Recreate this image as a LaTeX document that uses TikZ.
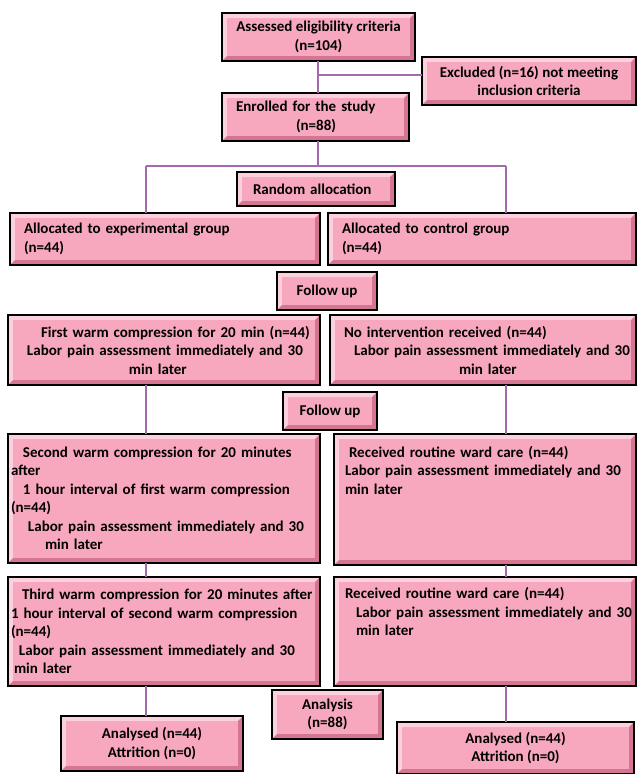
\documentclass[tikz,border=0pt]{standalone}
\usepackage{fontspec}
\setmainfont{Carlito}
\usetikzlibrary{positioning,calc}
\definecolor{BoxFace}{RGB}{247,168,190}
\definecolor{BevelLight}{RGB}{252,208,220}
\definecolor{BevelDark}{RGB}{212,118,146}
\definecolor{LinkPurple}{RGB}{165,105,175}

\begin{document}
\begin{tikzpicture}[x=1pt, y=-1pt,
 box/.style={draw=black, line width=1.6pt, fill=BoxFace, anchor=north west, outer sep=0pt,
   inner xsep=3pt, inner ysep=2pt, font=\fontsize{15}{18.5}\selectfont\bfseries,
   path picture={
     \fill[BevelLight] (path picture bounding box.north west) rectangle (path picture bounding box.south east);
     \fill[BevelDark] (path picture bounding box.north east) -- (path picture bounding box.south east)
       -- (path picture bounding box.south west) -- ([shift={(5pt,5pt)}]path picture bounding box.south west)
       -- ([shift={(-5pt,5pt)}]path picture bounding box.south east)
       -- ([shift={(-5pt,-5pt)}]path picture bounding box.north east) -- cycle;
     \fill[BoxFace] ([shift={(5pt,-5pt)}]path picture bounding box.north west)
       rectangle ([shift={(-5pt,5pt)}]path picture bounding box.south east);
   }},
 link/.style={draw=LinkPurple, line width=1.8pt}
]
\useasboundingbox (0,0) rectangle (638,774);

% enrolment
\node[box, minimum width=193pt, minimum height=48pt, align=center] (assess) at (222,13) {Assessed eligibility criteria\\(n=104)};
\node[box, minimum width=214pt, minimum height=48pt, align=center] (excl) at (422,57) {Excluded (n=16) not meeting\\inclusion criteria};
\node[box, minimum width=187pt, minimum height=48pt, text width=181pt, align=left] (enrol) at (222,93) {\hspace*{11pt}Enrolled for the study\\\hspace*{71pt}(n=88)};
\node[box, minimum width=158pt, minimum height=34pt, text width=152pt, align=left] (rand) at (237,172) {\hspace*{13pt}Random allocation};

% allocation
\node[box, minimum width=310pt, minimum height=52pt, text width=304pt, align=left] (allocE) at (10,213) {\hspace*{11pt}Allocated to experimental group\\\hspace*{11pt}(n=44)};
\node[box, minimum width=308pt, minimum height=52pt, text width=302pt, align=left] (allocC) at (328,213) {\hspace*{11pt}Allocated to control group\\\hspace*{11pt}(n=44)};
\node[box, minimum width=100pt, minimum height=38pt, align=center] (fuA) at (277,272) {Follow up};

% follow up
\node[box, minimum width=312pt, minimum height=70pt, text width=306pt, align=left] (firstE) at (8,315) {\hspace*{30pt}First warm compression for 20 min (n=44)\\\hspace*{16pt}Labor pain assessment immediately and 30\\\hspace*{118pt}min later};
\node[box, minimum width=306pt, minimum height=70pt, text width=300pt, align=left] (firstC) at (330,315) {\hspace*{11pt}No intervention received (n=44)\\\hspace*{21pt}Labor pain assessment immediately and 30\\\hspace*{126pt}min later};
\node[box, minimum width=94pt, minimum height=38pt, align=center] (fuB) at (283,392) {Follow up};

\node[box, minimum width=312pt, minimum height=129pt, text width=306pt, align=left] (secE) at (8,434) {\hspace*{12pt}Second warm compression for 20 minutes\\after\\\hspace*{12pt}1 hour interval of first warm compression\\(n=44)\\\hspace*{17pt}Labor pain assessment immediately and 30\\\hspace*{34pt}min later};
\node[box, minimum width=302pt, minimum height=131pt, text width=296pt, text depth=96pt, align=left] (secC) at (334,434) {\hspace*{12pt}Received routine ward care (n=44)\\\hspace*{8pt}Labor pain assessment immediately and 30\\\hspace*{8pt}min later};

\node[box, minimum width=312pt, minimum height=109pt, text width=306pt, align=left] (thirdE) at (8,577) {\hspace*{11pt}Third warm compression for 20 minutes after\\1 hour interval of second warm compression\\(n=44)\\\hspace*{8pt}Labor pain assessment immediately and 30\\\hspace*{3pt}min later};
\node[box, minimum width=302pt, minimum height=109pt, text width=296pt, text depth=77pt, align=left] (thirdC) at (334,577) {\hspace*{8pt}Received routine ward care (n=44)\\\hspace*{19pt}Labor pain assessment immediately and 30\\\hspace*{19pt}min later};

% analysis
\node[box, minimum width=111pt, minimum height=49pt, align=center] (anal) at (272,690) {Analysis\\(n=88)};
\node[box, minimum width=182pt, minimum height=55pt, align=center] (outE) at (61,716) {Analysed (n=44)\\Attrition (n=0)};
\node[box, minimum width=237pt, minimum height=52pt, align=center] (outC) at (397,722) {Analysed (n=44)\\Attrition (n=0)};

% connectors
\coordinate (exj) at (318,75);
\coordinate (split) at (318,166);
\coordinate (colE) at (146,0);
\coordinate (colC) at (506,0);

\draw[link] (assess.south -| exj) -- (enrol.north -| exj);
\draw[link] (exj) -- (exj -| excl.west);
\draw[link] (enrol.south -| split) -- (split);
\draw[link] (split -| colE) -- (split -| colC);
\draw[link] (split -| colE) -- (allocE.north -| colE);
\draw[link] (split -| colC) -- (allocC.north -| colC);
\draw[link] (firstE.south -| colE) -- (secE.north -| colE);
\draw[link] (firstC.south -| colC) -- (secC.north -| colC);
\draw[link] (secE.south -| colE) -- (thirdE.north -| colE);
\draw[link] (secC.south -| colC) -- (thirdC.north -| colC);
\draw[link] (thirdE.south -| colE) -- (outE.north -| colE);
\draw[link] (thirdC.south -| colC) -- (outC.north -| colC);
\end{tikzpicture}
\end{document}
